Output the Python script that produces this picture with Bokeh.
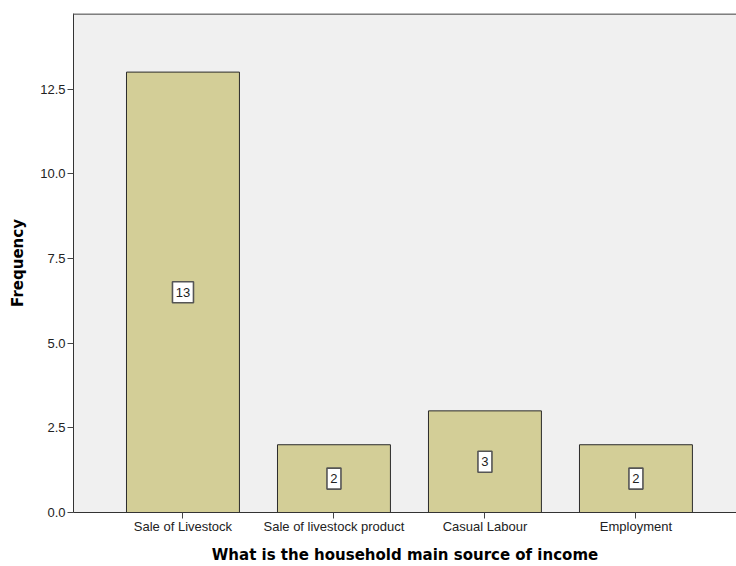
from bokeh.plotting import figure
from bokeh.models import Range1d, FixedTicker, NumeralTickFormatter, ColumnDataSource, Span
from bokeh.core.properties import value
from bokeh.embed import file_html
from bokeh.resources import INLINE

categories = ["Sale of Livestock", "Sale of livestock product", "Casual Labour", "Employment"]
frequency = [13, 2, 3, 2]
y_ticks = [0, 2.5, 5, 7.5, 10, 12.5]

xs = list(range(len(categories)))
labs = [str(v) for v in frequency]
src = ColumnDataSource(dict(x=xs, top=frequency, mid=[v / 2 for v in frequency],
                            lab=labs, bw=[7 * len(s) + 7 for s in labs]))

Y_END = 14.73
p = figure(width=736, height=566, output_backend="svg", toolbar_location=None,
           x_range=Range1d(-0.725, 3.666), y_range=Range1d(0, Y_END),
           min_border_left=73, min_border_top=13, min_border_bottom=54, min_border_right=0)

p.background_fill_color = "#F0F0F0"
p.border_fill_color = "white"
p.outline_line_color = None
p.grid.visible = False

p.add_layout(Span(location=Y_END, dimension="width", line_color="#7F7F7F", line_width=3))

p.vbar(x="x", top="top", width=0.748, source=src, fill_color="#D3CE97",
       line_color="#2B2B2B", line_width=1)

p.rect(x="x", y="mid", width="bw", height=21, width_units="screen", height_units="screen",
       source=src, fill_color="white", line_color="#555555", line_width=1.6)
p.text(x="x", y="mid", text="lab", source=src, text_align="center", text_baseline="middle",
       text_font=value("Liberation Sans"), text_font_size="13px", text_color="#222222")

xa = p.xaxis[0]
ya = p.yaxis[0]
xa.ticker = FixedTicker(ticks=xs)
xa.major_label_overrides = {i: c for i, c in enumerate(categories)}
ya.ticker = FixedTicker(ticks=y_ticks)
ya.formatter = NumeralTickFormatter(format="0.0")

for ax in (xa, ya):
    ax.minor_tick_line_color = None
    ax.major_tick_in = 0
    ax.major_tick_out = 6
    ax.axis_line_color = "#333333"
    ax.major_tick_line_color = "#444444"
    ax.major_label_text_font = "Liberation Sans"
    ax.major_label_text_font_size = "13px"
    ax.major_label_text_color = "#222222"
    ax.axis_label_text_font = "DejaVu Sans"
    ax.axis_label_text_font_style = "bold"
    ax.axis_label_text_font_size = "15px"
    ax.axis_label_text_color = "black"

ya.major_label_standoff = 2
xa.major_label_standoff = 0
xa.axis_label = "What is the household main source of income"
ya.axis_label = "Frequency"
xa.axis_label_standoff = 9
ya.axis_label_standoff = 10

open("out.html", "w").write(file_html(p, INLINE))
